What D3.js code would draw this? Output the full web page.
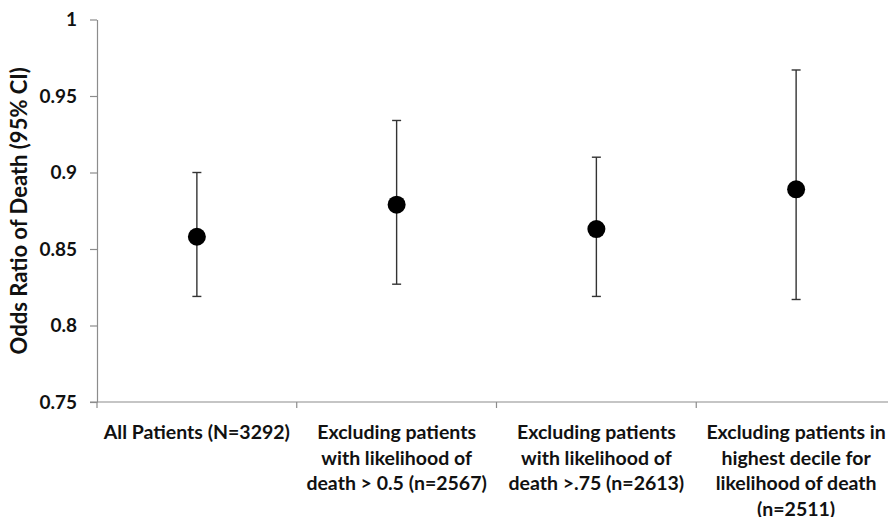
<!DOCTYPE html>
<html>
<head>
<meta charset="utf-8">
<script src="https://cdn.jsdelivr.net/npm/d3@7"></script>
<style>
  html, body { margin: 0; padding: 0; background: #fff; }
  svg { display: block; }
  text { font-family: Lato, "Liberation Sans", Arial, sans-serif; font-weight: bold; fill: #111; }
</style>
</head>
<body>
<svg id="chart" width="888" height="517"></svg>
<script>
// Odds ratio of death with 95% confidence intervals per cohort
const categories = [
  ["All Patients (N=3292)"],
  ["Excluding patients", "with likelihood of", "death > 0.5 (n=2567)"],
  ["Excluding patients", "with likelihood of", "death >.75 (n=2613)"],
  ["Excluding patients in", "highest decile for", "likelihood of death", "(n=2511)"]
];
const oddsRatio = [0.858, 0.879, 0.863, 0.889];
const ciLower   = [0.819, 0.827, 0.819, 0.817];
const ciUpper   = [0.900, 0.934, 0.910, 0.967];
const yTicks    = [0.75, 0.8, 0.85, 0.9, 0.95, 1];
const yTickLabels = ["0.75", "0.8", "0.85", "0.9", "0.95", "1"];

const svg = d3.select("#chart");
const plotLeft = 97, plotRight = 896, plotTop = 19.5, plotBottom = 402;
const fontFamily = 'Lato, "Liberation Sans", Arial, sans-serif';

const x = d3.scaleBand().domain(d3.range(categories.length)).range([plotLeft, plotRight]);
const y = d3.scaleLinear().domain([0.75, 1]).range([plotBottom, plotTop]);

// Y axis
const yAxis = d3.axisLeft(y).tickValues(yTicks)
  .tickFormat((d, i) => yTickLabels[i]).tickSize(7).tickSizeOuter(0).tickPadding(13);
const gy = svg.append("g").attr("transform", `translate(${plotLeft},0)`).call(yAxis);
gy.select(".domain").attr("stroke", "#8c8c8c").attr("stroke-width", 1.2);
gy.selectAll(".tick line").attr("stroke", "#8c8c8c").attr("stroke-width", 1.2);
gy.selectAll(".tick text").style("font-size", "19px").attr("fill", "#111")
  .style("font-family", fontFamily).style("font-weight", "bold");

// X axis line with category boundary ticks
svg.append("line").attr("x1", plotLeft - 7).attr("x2", plotRight).attr("y1", plotBottom).attr("y2", plotBottom)
  .attr("stroke", "#8c8c8c").attr("stroke-width", 1.2);
svg.selectAll(".xtick").data(d3.range(categories.length + 1)).enter().append("line")
  .attr("class", "xtick")
  .attr("x1", i => i < categories.length ? x(i) : plotRight)
  .attr("x2", i => i < categories.length ? x(i) : plotRight)
  .attr("y1", plotBottom).attr("y2", plotBottom + 6)
  .attr("stroke", "#8c8c8c").attr("stroke-width", 1.2);

// Category labels
const labels = svg.selectAll(".xlab").data(categories).enter().append("text")
  .attr("class", "xlab")
  .attr("text-anchor", "middle")
  .attr("y", 439)
  .style("font-size", "19.5px");
labels.each(function(lines, i) {
  d3.select(this).selectAll("tspan").data(lines).enter().append("tspan")
    .attr("x", x(i) + x.bandwidth() / 2)
    .attr("dy", (d, j) => j === 0 ? 0 : 25.5)
    .text(d => d);
});

// Y axis title
svg.append("text")
  .attr("transform", `translate(27,${(plotTop + plotBottom) / 2}) rotate(-90)`)
  .attr("text-anchor", "middle")
  .style("font-size", "22px")
  .text("Odds Ratio of Death (95% CI)");

// Error bars and points
const g = svg.append("g");
const cx = i => x(i) + x.bandwidth() / 2;
const idx = d3.range(oddsRatio.length);
g.selectAll(".whisker").data(idx).enter().append("line")
  .attr("x1", cx).attr("x2", cx)
  .attr("y1", i => y(ciLower[i])).attr("y2", i => y(ciUpper[i]))
  .attr("stroke", "#333").attr("stroke-width", 1.4);
[ciLower, ciUpper].forEach(arr => {
  g.selectAll(null).data(idx).enter().append("line")
    .attr("x1", i => cx(i) - 4.5).attr("x2", i => cx(i) + 4.5)
    .attr("y1", i => y(arr[i])).attr("y2", i => y(arr[i]))
    .attr("stroke", "#333").attr("stroke-width", 1.4);
});
g.selectAll("circle").data(idx).enter().append("circle")
  .attr("cx", cx).attr("cy", i => y(oddsRatio[i])).attr("r", 9)
  .attr("fill", "#000");
</script>
</body>
</html>
